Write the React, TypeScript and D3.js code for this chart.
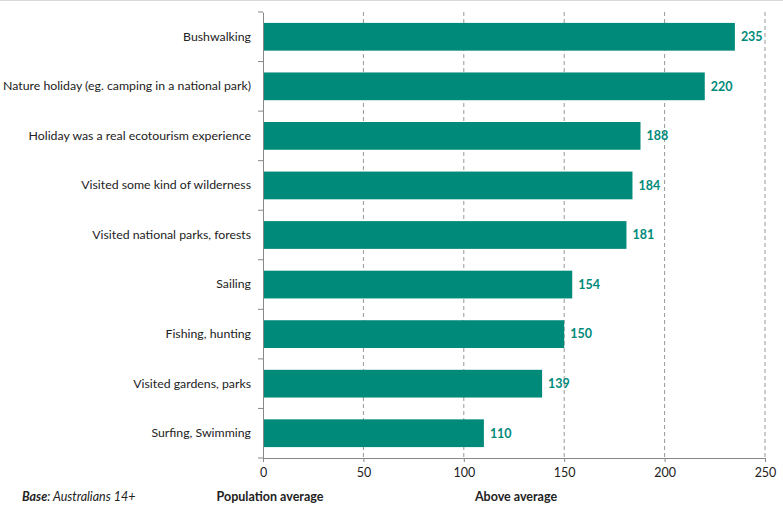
import * as d3 from 'd3'
import { useEffect, useRef } from 'react'

const categories = [
    'Bushwalking',
    'Nature holiday (eg. camping in a national park)',
    'Holiday was a real ecotourism experience',
    'Visited some kind of wilderness',
    'Visited national parks, forests',
    'Sailing',
    'Fishing, hunting',
    'Visited gardens, parks',
    'Surfing, Swimming',
]
const values = [235, 220, 188, 184, 181, 154, 150, 139, 110]
const xTicks = [0, 50, 100, 150, 200, 250]

const WIDTH = 783
const HEIGHT = 507
const MARGIN = { top: 12, right: 18, bottom: 49, left: 263 }
const TEAL = '#008a7a'
const FONT = 'Lato, sans-serif'

/* X axis, Excel-like: grey baseline, small ticks, labels below */
const AxisBottom = ({ scale, transform }: { scale: d3.ScaleLinear<number, number>, transform: string }) => {
    const ref = useRef<SVGGElement>(null)

    useEffect(() => {
        if (ref.current) {
            const g = d3.select(ref.current)
            g.call(d3.axisBottom(scale).tickValues(xTicks).tickSize(4).tickSizeOuter(0).tickPadding(6))
            g.select('.domain').attr('stroke', '#888')
            g.selectAll('.tick line').attr('stroke', '#888')
            g.selectAll('.tick text').attr('fill', '#222').style('font-size', '12.5px').style('font-family', FONT)
        }
    }, [scale])

    return <g ref={ref} transform={transform} />
}

/* Y axis with tick marks between categories */
const AxisLeft = ({ scale }: { scale: d3.ScaleBand<string> }) => {
    const ref = useRef<SVGGElement>(null)

    useEffect(() => {
        if (ref.current) {
            const g = d3.select(ref.current)
            g.call(d3.axisLeft(scale).tickSize(0).tickPadding(12))
            g.select('.domain').attr('stroke', '#888')
            g.selectAll('.tick text').attr('fill', '#222').style('font-size', '12.3px').style('font-family', FONT)
            // separators between bands
            const edges = d3.range(categories.length + 1).map((i) => scale.range()[0] + i * scale.step())
            g.selectAll('line.sep')
                .data(edges)
                .join('line')
                .attr('class', 'sep')
                .attr('x1', -5)
                .attr('x2', 0)
                .attr('y1', (d) => d)
                .attr('y2', (d) => d)
                .attr('stroke', '#888')
        }
    }, [scale])

    return <g ref={ref} />
}

export default function App() {
    const boundsWidth = WIDTH - MARGIN.left - MARGIN.right
    const boundsHeight = HEIGHT - MARGIN.top - MARGIN.bottom

    const xScale = d3.scaleLinear().domain([0, 250]).range([0, 502])
    const yScale = d3.scaleBand<string>().domain(categories).range([0, 446]).paddingInner(0.44).paddingOuter(0.22)

    return (
        <svg
            width={WIDTH}
            height={HEIGHT}
            style={{ position: 'absolute', left: 0, top: 0, background: '#fff' }}
        >
            <line x1={0} x2={WIDTH} y1={0.5} y2={0.5} stroke="#d9d9d9" />
            <g transform={`translate(${MARGIN.left},${MARGIN.top})`} width={boundsWidth} height={boundsHeight}>
                {xTicks.slice(1).map((t) => (
                    <line
                        key={t}
                        x1={xScale(t)}
                        x2={xScale(t)}
                        y1={0}
                        y2={446}
                        stroke="#999"
                        strokeDasharray="4,3"
                    />
                ))}
                {categories.map((c, i) => (
                    <g key={c}>
                        <rect
                            x={0}
                            y={yScale(c)}
                            width={xScale(values[i])}
                            height={yScale.bandwidth()}
                            fill={TEAL}
                        />
                        <text
                            x={xScale(values[i]) + 6}
                            y={(yScale(c) ?? 0) + yScale.bandwidth() / 2}
                            dy="0.35em"
                            fill={TEAL}
                            fontWeight="bold"
                            fontSize={12.5}
                            fontFamily={FONT}
                        >
                            {values[i]}
                        </text>
                    </g>
                ))}
                <AxisBottom scale={xScale} transform={`translate(0,446)`} />
                <AxisLeft scale={yScale} />
            </g>
            <text x={22} y={497} dy="0.35em" fontSize={12.5} fontFamily={FONT} fontStyle="italic" fill="#222">
                <tspan fontWeight="bold">Base</tspan>: Australians 14+
            </text>
            <text x={270} y={497} dy="0.35em" fontSize={12.5} fontFamily={FONT} fontWeight="bold" textAnchor="middle" fill="#222">
                Population average
            </text>
            <text x={516} y={497} dy="0.35em" fontSize={12.5} fontFamily={FONT} fontWeight="bold" textAnchor="middle" fill="#222">
                Above average
            </text>
        </svg>
    )
}
